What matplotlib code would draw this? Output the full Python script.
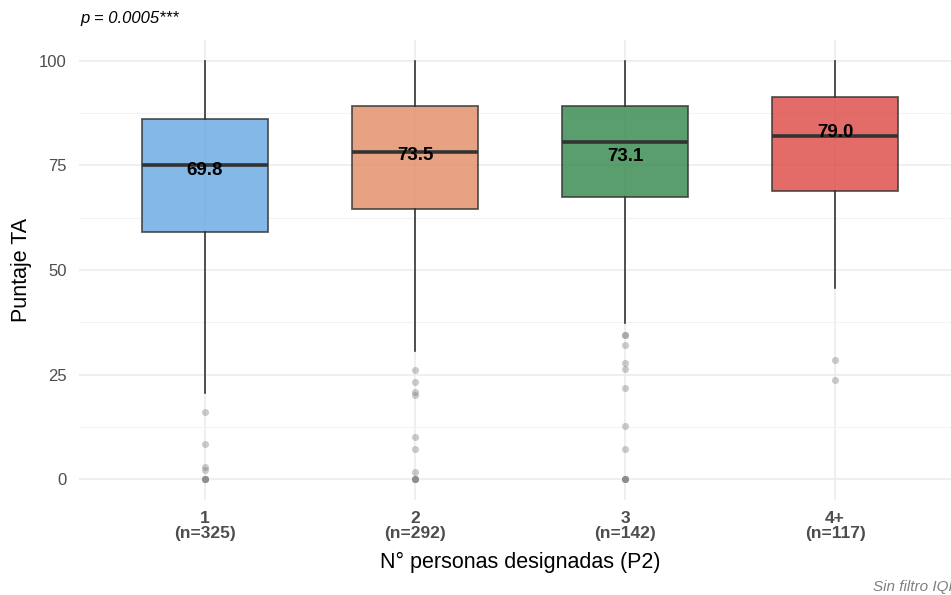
import numpy as np
import matplotlib.pyplot as plt

# datos
categorias = ["1", "2", "3", "4+"]
n_obs = [325, 292, 142, 117]
q1 = [59.2, 64.6, 67.5, 69.0]
mediana = [75.0, 78.3, 80.5, 82.1]
q3 = [86.0, 89.2, 89.3, 91.3]
bigote_bajo = [20.6, 30.6, 37.3, 45.7]
bigote_alto = [100.0, 100.0, 100.0, 100.0]
media = [69.8, 73.5, 73.1, 79.0]
atipicos = [
    [16.1, 8.5, 2.9, 2.2, 0, 0, 0, 0],
    [26.1, 23.2, 20.8, 20.0, 10.0, 7.1, 1.8, 0, 0, 0, 0],
    [34.5, 34.5, 32.0, 27.8, 26.4, 21.8, 12.8, 7.2, 0, 0, 0, 0],
    [28.5, 23.6],
]
colores = ["#66A7E2", "#E28B66", "#31864A", "#DD4642"]

plt.rcParams['font.family'] = ['Liberation Sans', 'DejaVu Sans']

fig = plt.figure(figsize=(9.51, 5.95), dpi=100)
ax = fig.add_axes([79 / 951, 95 / 595, 872 / 951, 460 / 595])

stats = []
for i in range(len(categorias)):
    stats.append(dict(q1=q1[i], med=mediana[i], q3=q3[i],
                      whislo=bigote_bajo[i], whishi=bigote_alto[i],
                      fliers=[], label=categorias[i]))
pos = np.arange(len(categorias))
bp = ax.bxp(stats, positions=pos, widths=0.6, patch_artist=True,
            showcaps=False, showfliers=False,
            boxprops=dict(edgecolor='#333333', linewidth=1.3),
            whiskerprops=dict(color='#333333', linewidth=1.2),
            medianprops=dict(color='#333333', linewidth=2.6),
            zorder=3)
for caja, c in zip(bp['boxes'], colores):
    caja.set_facecolor(c)
    caja.set_alpha(0.8)
    caja.set_edgecolor('#333333')

for i, pts in enumerate(atipicos):
    ax.scatter(np.full(len(pts), pos[i]), pts, s=26, color='#7f7f7f',
               alpha=0.4, linewidths=0, zorder=4)

for i, m in enumerate(media):
    ax.text(pos[i], m + 4, f"{m:.1f}", ha='center', va='center',
            fontsize=13.5, fontweight='bold', color='black', zorder=5)

ax.set_xlim(-0.6, 3.552)
ax.set_ylim(-5, 105)
ax.set_yticks([0, 25, 50, 75, 100])
ax.set_yticks([12.5, 37.5, 62.5, 87.5], minor=True)
ax.set_xticks(pos)
ax.set_xticklabels([f"{c}\n(n={n})" for c, n in zip(categorias, n_obs)],
                   fontsize=12.5, fontweight='bold', color='#4d4d4d',
                   linespacing=1.0)
ax.tick_params(axis='y', labelsize=12, labelcolor='#4d4d4d', length=0, pad=9)
ax.tick_params(axis='x', length=0, pad=8)
ax.tick_params(which='minor', length=0)
ax.grid(True, which='major', color='#ebebeb', linewidth=1.1, zorder=0)
ax.grid(True, which='minor', axis='y', color='#f3f3f3', linewidth=0.8, zorder=0)
ax.set_axisbelow(True)
for s in ax.spines.values():
    s.set_visible(False)

ax.set_ylabel("Puntaje TA", fontsize=15.5)
ax.yaxis.set_label_coords(-(79 - 22) / 872, 0.5)
ax.set_xlabel("N° personas designadas (P2)", fontsize=15.5)
ax.xaxis.set_label_coords((520 - 79) / 872, -(562 - 500) / 460)
ax.xaxis.label.set_va('center')
ax.yaxis.label.set_va('center')

fig.text(80 / 951, 1 - 18 / 595, "p = 0.0005***", fontsize=12,
         style='italic', ha='left', va='center')
# en el original el pie de figura queda cortado en el borde derecho
fig.text(873 / 951, 1 - 587 / 595, "Sin filtro IQR", fontsize=11,
         style='italic', color='#808080', ha='left', va='center')

fig.savefig("out.png", dpi=100)
